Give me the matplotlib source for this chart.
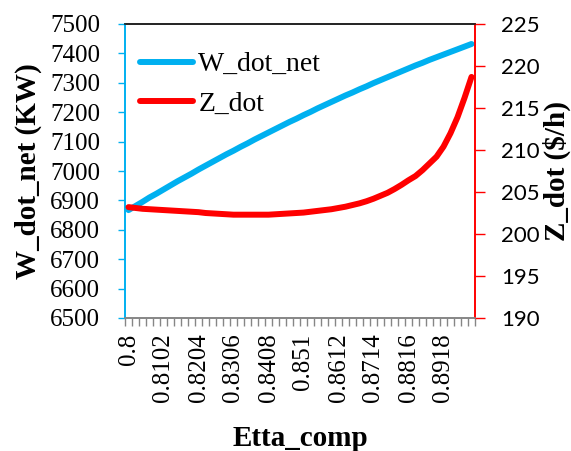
import matplotlib
matplotlib.use("Agg")
import matplotlib.pyplot as plt
from matplotlib.ticker import FixedLocator, NullFormatter

# ---- data ----
etta_comp = ["0.8", "0.802", "0.8041", "0.8061", "0.8082", "0.8102", "0.8122", "0.8143",
             "0.8163", "0.8184", "0.8204", "0.8224", "0.8245", "0.8265", "0.8286", "0.8306",
             "0.8327", "0.8347", "0.8367", "0.8388", "0.8408", "0.8429", "0.8449", "0.8469",
             "0.849", "0.851", "0.8531", "0.8551", "0.8571", "0.8592", "0.8612", "0.8633",
             "0.8653", "0.8673", "0.8694", "0.8714", "0.8735", "0.8755", "0.8776", "0.8796",
             "0.8816", "0.8837", "0.8857", "0.8878", "0.8898", "0.8918", "0.8939", "0.8959",
             "0.898", "0.9"]
w_dot_net = [6867, 6881, 6895, 6910, 6923, 6937, 6951, 6965, 6978, 6991,
             7005, 7018, 7031, 7044, 7057, 7069, 7082, 7094, 7107, 7119,
             7131, 7143, 7155, 7167, 7178, 7190, 7201, 7213, 7224, 7235,
             7246, 7257, 7267, 7278, 7288, 7299, 7309, 7319, 7329, 7339,
             7349, 7359, 7368, 7378, 7387, 7396, 7405, 7414, 7423, 7432]
z_dot = [203.2, 203.1, 203.0, 202.95, 202.9, 202.85, 202.8, 202.75, 202.7, 202.65,
         202.6, 202.5, 202.45, 202.4, 202.35, 202.3, 202.3, 202.3, 202.3, 202.3,
         202.3, 202.35, 202.4, 202.45, 202.5, 202.55, 202.65, 202.75, 202.85, 202.95,
         203.1, 203.25, 203.45, 203.65, 203.9, 204.2, 204.55, 204.9, 205.35, 205.85,
         206.4, 206.9, 207.6, 208.4, 209.2, 210.4, 212.0, 213.9, 216.2, 218.7]
left_ticks = [6500, 6600, 6700, 6800, 6900, 7000, 7100, 7200, 7300, 7400, 7500]
right_ticks = [190, 195, 200, 205, 210, 215, 220, 225]
label_every = 5

BLUE = "#00B0F0"
RED = "#FF0000"
SERIF = "Liberation Serif"

fig = plt.figure(figsize=(5.71, 4.51), dpi=100)
ax = fig.add_axes([125/571, 1-318/451, 350/571, 294/451])
ax2 = ax.twinx()

x = list(range(len(etta_comp)))
l1, = ax.plot(x, w_dot_net, color=BLUE, lw=4.3, solid_capstyle="round", label="W_dot_net", zorder=3)
l2, = ax2.plot(x, z_dot, color=RED, lw=4.3, solid_capstyle="round", label="Z_dot", zorder=3)

ax.set_xlim(-0.5, len(x) - 0.5)
ax.set_ylim(6500, 7500)
ax2.set_ylim(190, 225)

# x axis
ax.xaxis.set_major_locator(FixedLocator(x[::label_every]))
ax.set_xticklabels(etta_comp[::label_every], rotation=90, fontfamily=SERIF, fontsize=18)
ax.xaxis.set_minor_locator(FixedLocator([i - 0.5 for i in range(len(x) + 1)]))
ax.xaxis.set_minor_formatter(NullFormatter())
ax.tick_params(axis="x", which="major", length=0, pad=11)
ax.tick_params(axis="x", which="minor", length=6, width=1, color="#868686", direction="out")

# left y axis
ax.set_yticks(left_ticks)
ax.set_yticklabels([str(v) for v in left_ticks], fontfamily=SERIF, fontsize=18)
ax.tick_params(axis="y", length=5, width=1, color=BLUE, direction="out", pad=13)

# right y axis
ax2.set_yticks(right_ticks)
ax2.set_yticklabels([str(v) for v in right_ticks], fontfamily="Lato", fontsize=16)
ax2.tick_params(axis="y", length=7, width=1, color=RED, direction="out", pad=12)

for a in (ax, ax2):
    a.spines["left"].set_color(BLUE)
    a.spines["right"].set_color(RED)
    a.spines["top"].set_color("#222222")
    a.spines["bottom"].set_color("#868686")
    for s in a.spines.values():
        s.set_linewidth(1.2)
ax.patch.set_visible(False)

ax.set_xlabel("Etta_comp", fontfamily=SERIF, fontweight="bold", fontsize=21)
ax.xaxis.set_label_coords(0.5, -0.365)
ax.set_ylabel("W_dot_net (KW)", fontfamily=SERIF, fontweight="bold", fontsize=21)
ax.yaxis.set_label_coords(-0.237, 0.5)
ax2.set_ylabel("Z_dot ($/h)", fontfamily=SERIF, fontweight="bold", fontsize=21)
ax2.yaxis.set_label_coords(1.192, 0.5)

leg = ax2.legend([l1, l2], ["W_dot_net", "Z_dot"], loc="upper left",
                 bbox_to_anchor=(0.043, 0.905), frameon=False,
                 prop={"family": SERIF, "size": 20}, handlelength=1.9,
                 handletextpad=0.2, labelspacing=0.5, borderaxespad=0, borderpad=0)

fig.savefig("out.png", dpi=100)
